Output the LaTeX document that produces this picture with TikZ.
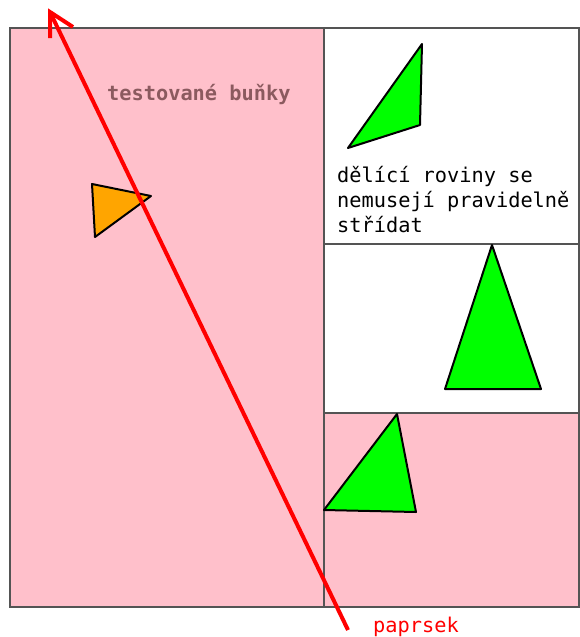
\documentclass[tikz,border=0pt]{standalone}
\usepackage{fontspec}
\setmonofont{DejaVu Sans Mono}
\begin{document}
\begin{tikzpicture}[x=1pt,y=-1pt,
  cell/.style={draw=black!67,line width=1.5pt},
  tri/.style={draw=black,line width=2pt,line join=round},
  ray/.style={draw=red,line width=4pt},
  lbl/.style={font=\ttfamily\fontsize{20.3}{25}\selectfont,inner sep=0pt,anchor=base west,align=left}]
\definecolor{pinkc}{RGB}{255,192,203}
\definecolor{greenc}{RGB}{0,255,0}
\definecolor{orangec}{RGB}{255,165,0}
\definecolor{labc}{RGB}{139,90,95}
\useasboundingbox (0,0) rectangle (579,637);
% cells
\fill[pinkc] (10,28) rectangle (324,607);
\fill[pinkc] (324,413) rectangle (579,607);
\draw[cell] (10,28) rectangle (579,607);
\draw[cell] (324,28) -- (324,607);
\draw[cell] (324,244) -- (579,244);
\draw[cell] (324,413) -- (579,413);
% triangles
\draw[tri,fill=greenc] (348,148) -- (422,44) -- (420,125) -- cycle;
\draw[tri,fill=greenc] (492,245) -- (445,389) -- (541,389) -- cycle;
\draw[tri,fill=greenc] (324,510) -- (397,414) -- (416,512) -- cycle;
\draw[tri,fill=orangec] (92,184) -- (151,196) -- (95,237) -- cycle;
% ray
\coordinate (rs) at (348,630);
\coordinate (rt) at (50,12);
\coordinate (w1) at (50,38);
\coordinate (w2) at (73,27);
\draw[ray] (rs) -- (rt);
\draw[ray,line join=miter] (w1) -- (rt) -- (w2);
% labels
\node[lbl,font=\ttfamily\bfseries\fontsize{20.3}{25}\selectfont,text=labc] (tb) at (107,100) {testované buňky};
\node[lbl] (dr) at (337,232) {dělící roviny se\\nemusejí pravidelně\\střídat};
\node[lbl,text=red] (pp) at (373,632) {paprsek};
\end{tikzpicture}
\end{document}
